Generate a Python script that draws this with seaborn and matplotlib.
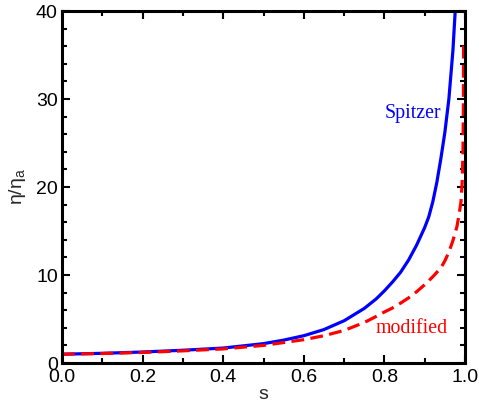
import matplotlib
matplotlib.use("Agg")
import matplotlib.pyplot as plt
from matplotlib.ticker import MultipleLocator
import seaborn as sns
import pandas as pd

# Data
s_spitzer = [0.0, 0.1, 0.2, 0.3, 0.4, 0.5, 0.55, 0.6, 0.65, 0.7, 0.75, 0.78,
             0.80, 0.82, 0.84, 0.86, 0.88, 0.90, 0.91, 0.92, 0.93, 0.94, 0.95,
             0.96, 0.97, 0.977]
eta_spitzer = [1.0, 1.1, 1.25, 1.45, 1.7, 2.2, 2.6, 3.1, 3.8, 4.8, 6.2, 7.3,
               8.2, 9.2, 10.3, 11.7, 13.4, 15.4, 16.6, 18.3, 20.5, 23.2, 26.2,
               30.0, 35.5, 41.0]

s_modified = [0.0, 0.1, 0.2, 0.3, 0.4, 0.5, 0.6, 0.65, 0.7, 0.75, 0.78, 0.8,
              0.82, 0.84, 0.86, 0.88, 0.9, 0.92, 0.94, 0.95, 0.96, 0.97, 0.98,
              0.985, 0.99, 0.993, 0.995, 0.996, 0.9965]
eta_modified = [1.0, 1.08, 1.2, 1.38, 1.6, 2.0, 2.65, 3.1, 3.7, 4.6, 5.3, 5.8,
                6.25, 6.8, 7.4, 8.1, 8.9, 9.8, 10.8, 11.6, 12.6, 13.9, 15.5,
                16.8, 18.3, 20.5, 24.0, 29.0, 36.5]

x_ticks = [0.0, 0.2, 0.4, 0.6, 0.8, 1.0]
y_ticks = [0, 10, 20, 30, 40]

df_sp = pd.DataFrame({"s": s_spitzer, "eta": eta_spitzer})
df_mod = pd.DataFrame({"s": s_modified, "eta": eta_modified})

sns.set_style("ticks")
plt.rcParams["font.family"] = ["Liberation Sans", "DejaVu Sans"]

fig = plt.figure(figsize=(4.79, 4.07), dpi=100)
ax = fig.add_axes([62 / 479, 1 - 363 / 407, 403 / 479, 352 / 407])

sns.lineplot(data=df_sp, x="s", y="eta", ax=ax, color="#0000ff", lw=2.3,
             sort=False, estimator=None)
sns.lineplot(data=df_mod, x="s", y="eta", ax=ax, color="#ff0000", lw=2.3,
             sort=False, estimator=None, dashes=False, linestyle=(0, (4, 2)))

ax.set_xlim(0, 1)
ax.set_ylim(0, 40)
ax.set_xticks(x_ticks)
ax.set_xticklabels([f"{v:.1f}" for v in x_ticks])
ax.set_yticks(y_ticks)
ax.set_yticklabels([str(v) for v in y_ticks])
ax.xaxis.set_minor_locator(MultipleLocator(0.1))
ax.yaxis.set_minor_locator(MultipleLocator(2))
ax.tick_params(which="both", direction="in", top=True, right=True,
               width=1.5, colors="black", labelsize=14)
ax.tick_params(axis="x", which="major", pad=4)
ax.tick_params(axis="y", which="major", pad=3)
ax.tick_params(which="major", length=6)
ax.tick_params(which="minor", length=3.5)
for sp in ax.spines.values():
    sp.set_linewidth(2.2)
    sp.set_color("black")

ax.set_xlabel("s", fontsize=14, labelpad=0)
ax.set_ylabel(r"$\mathregular{η/η_a}$", fontsize=14, labelpad=6)

ax.text(0.80, 28.4, "Spitzer", color="#0000ff", fontsize=14.3,
        family=["Liberation Serif", "DejaVu Serif"], ha="left", va="center")
ax.text(0.777, 3.9, "modified", color="#ff0000", fontsize=14.3,
        family=["Liberation Serif", "DejaVu Serif"], ha="left", va="center")

fig.savefig("out.png", dpi=100, facecolor="white")
